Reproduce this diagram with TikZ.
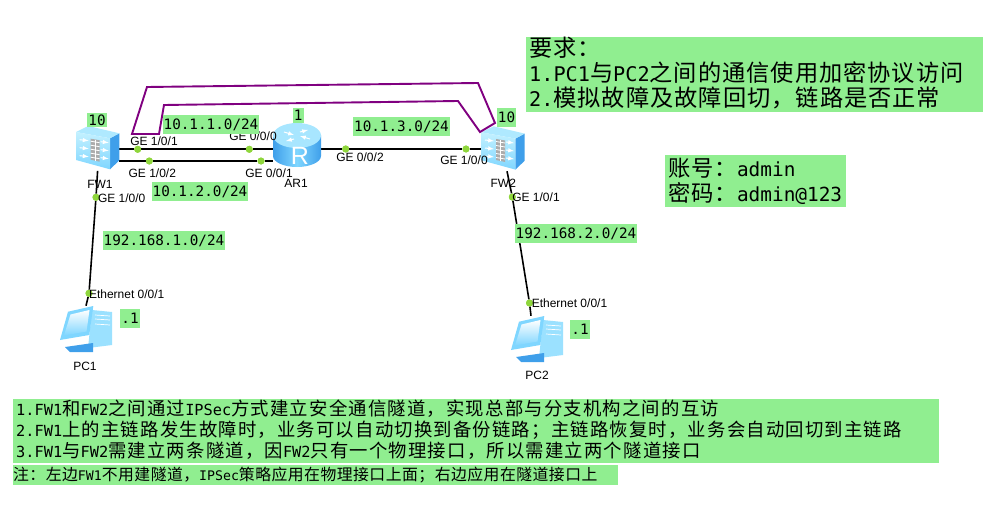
\documentclass[tikz,border=0pt]{standalone}
\usepackage{fontspec}
\setmainfont{Liberation Sans}
\setmonofont{DejaVu Sans Mono}
\newfontfamily\cjkfont[Scale=1.15,LetterSpace=4.3]{Noto Sans CJK SC}
\newfontfamily\cjkfontb[Scale=1.2,LetterSpace=6.5]{Noto Sans CJK SC}
\newfontfamily\cjkfontc[Scale=1.2,LetterSpace=3]{Noto Sans CJK SC}
\usepackage{tikz}
\usetikzlibrary{calc,positioning}
\definecolor{NoteBG}{HTML}{90EE90}
\definecolor{PortDot}{HTML}{8FD63C}
\definecolor{TunnelCol}{HTML}{800080}
\definecolor{IconLight}{HTML}{C4F1FF}
\definecolor{IconMid}{HTML}{7FD6FF}
\definecolor{IconDark}{HTML}{3F9FEA}
\newcommand{\zh}[1]{{\cjkfont #1}}
\newcommand{\zhb}[1]{{\cjkfontb #1}}
\newcommand{\zhc}[1]{{\cjkfontc #1}}
% firewall icon, centred on the node
\newcommand{\fwicon}[1]{%
  \begin{scope}[shift={(#1)}]
    \fill[IconDark] (12.4,-9.4) -- (21.7,-14.4) -- (21.7,12.7) -- (12.4,21.6) -- cycle;
    \fill[IconLight!70!IconMid] (-21.6,-15.7) -- (-9.3,-21.7) -- (21.7,-14.4) -- (12.4,-9.4) -- cycle;
    \shade[top color=IconLight,bottom color=IconMid] (-21.6,-15.7) -- (12.4,-9.4) -- (12.4,21.6) -- (-21.6,12.3) -- cycle;
    \fill[gray!65] (-7,-9) -- (2,-7.5) -- (2,14) -- (-7,12) -- cycle;
    \foreach \r in {-5,-1,3,7,11}
      \draw[white,line width=0.8pt] (-7,\r-1.5) -- (2,\r);
    \draw[white,line width=0.8pt] (-2.5,-8) -- (-2.5,13);
    \foreach \r in {-7,1,9} {
      \draw[white,line width=1pt,-latex] (-18,\r-1) -- (-9,\r);
      \draw[white,line width=1pt,-latex] (3,\r+1) -- (11,\r+2);
    }
  \end{scope}}
% router icon
\newcommand{\routericon}[1]{%
  \begin{scope}[shift={(#1)}]
    \shade[left color=IconDark,right color=IconDark,middle color=IconMid] (-24,-9.5) -- (-24,11) arc[start angle=180,end angle=0,x radius=24,y radius=11] -- (24,-9.5) -- cycle;
    \fill[IconLight!60!IconMid] (0,-9.5) ellipse[x radius=24,y radius=12.5];
    \draw[white,line width=1pt,-latex] (-13,-13) -- (-3,-10);
    \draw[white,line width=1pt,-latex] (13,-6) -- (3,-9);
    \draw[white,line width=1pt,-latex] (-3,-6) -- (-11,-4);
    \draw[white,line width=1pt,-latex] (3,-13) -- (11,-15);
    \node[text=white,font=\fontsize{25}{25}\selectfont] (#1R) at (3,11) {R};
  \end{scope}}
% computer icon
\newcommand{\pcicon}[1]{%
  \begin{scope}[shift={(#1)}]
    \fill[IconLight!40!IconMid] (6,-19) -- (26,-17) -- (26,16) -- (2,19) -- cycle;
    \draw[white,line width=0.7pt] (9,-14) -- (24,-13) (9,-10) -- (24,-9) (9,-5) -- (24,-4);
    \fill[IconDark] (-21,18) -- (7,14) -- (7,23) -- (-16,23) -- cycle;
    \fill[IconMid] (-18,-17.3) -- (7.3,-23) -- (3.3,6) -- (-26,11) -- cycle;
    \shade[top color=white,bottom color=IconMid] (-15.5,-14.5) -- (3.5,-19) -- (0.5,2.5) -- (-22,6.5) -- cycle;
  \end{scope}}
\begin{document}
\begin{tikzpicture}[x=1pt,y=-1pt,
  every node/.style={font=\fontsize{12}{12}\selectfont},
  devnd/.style={inner sep=0pt,minimum width=#1,minimum height=46pt},
  devnd/.default=43pt,
  portnd/.style={circle,fill=PortDot,inner sep=0pt,minimum size=7pt},
  iflbl/.style={inner sep=0pt},
  notelbl/.style={fill=NoteBG,inner xsep=1pt,inner ysep=0pt,minimum height=19pt,
             font=\fontsize{14.3}{14.3}\selectfont\ttfamily},
  notebox/.style={fill=NoteBG,anchor=north west,inner xsep=3pt,inner ysep=0pt,align=left},
  link/.style={line width=1.6pt,black},
  tunnel/.style={line width=1.9pt,TunnelCol}]
  \useasboundingbox (0,0) rectangle (1001,508);
  % devices
  \node[devnd] (FW1) at (97.6,147.7) {};
  \node[devnd=48pt] (AR1) at (297,145) {};
  \node[devnd] (FW2) at (503,148) {};
  \node[devnd=52pt] (PC1) at (86,329) {};
  \node[devnd=52pt] (PC2) at (537,339) {};
  % ports
  \node[portnd] (f1g1) at (137.7,149.3) {};
  \node[portnd] (f1g2) at (149.3,161) {};
  \node[portnd] (f1g0) at (96,197.3) {};
  \node[portnd] (argo) at (249.3,149.3) {};
  \node[portnd] (argi) at (261,161) {};
  \node[portnd] (argt) at (345.7,149) {};
  \node[portnd] (f2g0) at (466,149) {};
  \node[portnd] (f2g1) at (512.3,197) {};
  \node[portnd] (pc1e) at (89,293.3) {};
  \node[portnd] (pc2e) at (529.5,303) {};
  % links
  \draw[link] (FW1.east |- f1g1) -- (f1g1) -- (argo) -- (AR1.west |- argo);
  \draw[link] (FW1.east |- f1g2) -- (f1g2) -- (argi) -- (AR1.west |- argi);
  \draw[link] (AR1.east |- argt) -- (argt) -- (f2g0) -- (FW2.west |- f2g0);
  \draw[link] (FW1.south) -- (f1g0) -- (pc1e) -- (PC1.north);
  \draw[link] ([xshift=4pt]FW2.south) -- (f2g1) -- (pc2e) -- ([xshift=-6pt]PC2.north);
  \foreach \p in {f1g1,f1g2,f1g0,argo,argi,argt,f2g0,f2g1,pc1e,pc2e}
    \fill[PortDot] (\p) circle[radius=3.5];
  \fwicon{FW1}
  \fwicon{FW2}
  \routericon{AR1}
  \pcicon{PC1}
  \pcicon{PC2}
  % tunnel
  \coordinate (tun1) at (132,134);
  \coordinate (tun2) at (147,87);
  \coordinate (tun3) at (478,83);
  \coordinate (tun4) at (495,123);
  \coordinate (tun5) at (480,132);
  \coordinate (tun6) at (458,101);
  \coordinate (tun7) at (164,105);
  \coordinate (tun8) at (159,134);
  \draw[tunnel] (tun1) -- (tun2) -- (tun3) -- (tun4) -- (tun5) -- (tun6) -- (tun7) -- (tun8) -- cycle;
  % interface names
  \node[iflbl] (l1) at (154,141.7) {GE 1/0/1};
  \node[iflbl] (l2) at (152.3,173.7) {GE 1/0/2};
  \node[iflbl] (l3) at (121.7,198.3) {GE 1/0/0};
  \node[iflbl] (l4) at (253,136.7) {GE 0/0/0};
  \node[iflbl] (l5) at (269,173.7) {GE 0/0/1};
  \node[iflbl] (l6) at (360,157.3) {GE 0/0/2};
  \node[iflbl] (l7) at (464,160.7) {GE 1/0/0};
  \node[iflbl] (l8) at (536,197.7) {GE 1/0/1};
  \node[iflbl] (l9) at (126.7,294.3) {Ethernet 0/0/1};
  \node[iflbl] (l10) at (569.5,303.5) {Ethernet 0/0/1};
  % device names
  \node[iflbl] (n1) at (100,184.3) {FW1};
  \node[iflbl] (n2) at (296,183) {AR1};
  \node[iflbl] (n3) at (503.3,183.3) {FW2};
  \node[iflbl] (n4) at (85,366) {PC1};
  \node[iflbl] (n5) at (537,375) {PC2};
  % green notes
  \node[notelbl,minimum height=14pt] (t1) at (97,120) {10};
  \node[notelbl,minimum height=15pt] (t2) at (298.3,115.5) {1};
  \node[notelbl] (t3) at (506.5,117.5) {10};
  \node[notelbl] (t4) at (211,125) {10.1.1.0/24};
  \node[notelbl] (t5) at (200,191.5) {10.1.2.0/24};
  \node[notelbl] (t6) at (401.5,127) {10.1.3.0/24};
  \node[notelbl] (t7) at (164,240.5) {192.168.1.0/24};
  \node[notelbl] (t8) at (576,233.5) {192.168.2.0/24};
  \node[notelbl] (t9) at (130,318.5) {.1};
  \node[notelbl] (t10) at (580,329.5) {.1};
  \node[notebox,font=\fontsize{20.2}{25}\selectfont\ttfamily,text width=451pt,minimum height=75pt] (req) at (526,37)
    {\zh{要求：}\\1.PC1\zh{与}PC2\zh{之间的通信使用加密协议访问}\\2.\zh{模拟故障及故障回切，链路是否正常}\rule[-5pt]{0pt}{5pt}};
  \node[notebox,font=\fontsize{19.4}{25}\selectfont\ttfamily,text width=175pt,minimum height=52pt] (acc) at (665,155)
    {\zh{账号：}admin\\\zh{密码：}admin@123};
  \node[notebox,font=\fontsize{15.3}{21}\selectfont\ttfamily,text width=920pt,minimum height=64pt] (desc) at (13,399)
    {1.FW1\zhb{和}FW2\zhb{之间通过}IPSec\zhb{方式建立安全通信隧道，实现总部与分支机构之间的互访}\\
     2.FW1\zhb{上的主链路发生故障时，业务可以自动切换到备份链路；主链路恢复时，业务会自动回切到主链路}\\
     3.FW1\zhb{与}FW2\zhb{需建立两条隧道，因}FW2\zhb{只有一个物理接口，所以需建立两个隧道接口}\rule[-6pt]{0pt}{6pt}};
  \node[notebox,font=\fontsize{13.2}{16}\selectfont\ttfamily,inner xsep=0pt,text width=605pt,minimum height=20pt] (rem) at (13,465)
    {\zhc{注：左边}FW1\zhc{不用建隧道，}IPSec\zhc{策略应用在物理接口上面；右边应用在隧道接口上}};
\end{tikzpicture}
\end{document}
